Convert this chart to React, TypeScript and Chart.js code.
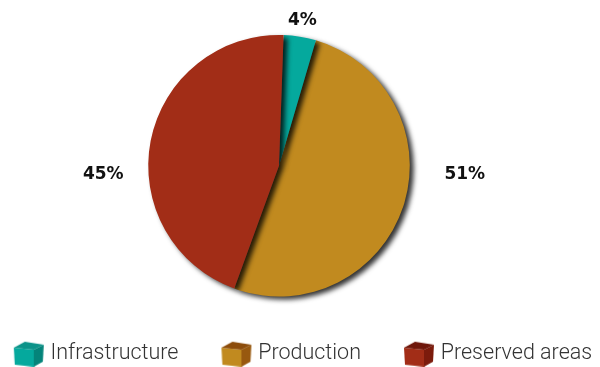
import React, { useEffect, useRef } from "react";
import { Chart, registerables } from "chart.js";

Chart.register(...registerables);

const categories = ["Infrastructure", "Production", "Preserved areas"];
const shares = [4, 51, 45];
const shareLabels = ["4%", "51%", "45%"];
const sliceColors = ["#05A99D", "#C18A1F", "#A22D17"];
const sideColors = ["#04847A", "#98590F", "#7C1B0C"];
const topColors = ["#0B9389", "#8C4C0B", "#6E160A"];
const drawOrder = [1, 0, 2];

function makeCube(i: number): HTMLCanvasElement {
  const c = document.createElement("canvas");
  c.width = 54;
  c.height = 27;
  const g = c.getContext("2d")!;
  g.translate(23, 0);
  // front face
  g.fillStyle = sliceColors[i];
  g.beginPath();
  g.moveTo(0, 8);
  g.lineTo(20, 10);
  g.lineTo(20, 27);
  g.lineTo(1, 25);
  g.closePath();
  g.fill();
  // right face
  g.fillStyle = sideColors[i];
  g.beginPath();
  g.moveTo(20, 10);
  g.lineTo(30, 5);
  g.lineTo(29, 22);
  g.lineTo(20, 27);
  g.closePath();
  g.fill();
  // top (interior)
  g.fillStyle = topColors[i];
  g.beginPath();
  g.moveTo(0, 8);
  g.lineTo(11, 2);
  g.lineTo(30, 5);
  g.lineTo(20, 10);
  g.closePath();
  g.fill();
  return c;
}

export default function App() {
  const ref = useRef<HTMLCanvasElement>(null);
  useEffect(() => {
    document.body.style.margin = "0";
    const cubes = categories.map((_, i) => makeCube(i));

    const shiftPlugin = {
      id: "shiftArea",
      afterLayout(chart: any) {
        const a = chart.chartArea;
        const cx = chart.width / 2 - 21;
        const w = a.right - a.left;
        a.left = cx - w / 2;
        a.right = cx + w / 2;
        a.bottom -= 21;
        a.width = a.right - a.left;
        a.height = a.bottom - a.top;
      },
    };

    const orderShadowPlugin = {
      id: "orderShadow",
      beforeDatasetDraw(chart: any, args: any) {
        const ctx = chart.ctx;
        const meta = args.meta;
        ctx.save();
        ctx.shadowColor = "rgba(0,0,0,0.8)";
        ctx.shadowBlur = 5;
        ctx.shadowOffsetX = 4;
        ctx.shadowOffsetY = 3;
        drawOrder.forEach((idx) => meta.data[idx].draw(ctx));
        ctx.restore();
        return false;
      },
    };

    const labelPlugin = {
      id: "pctLabels",
      afterDatasetsDraw(chart: any) {
        const ctx = chart.ctx;
        const arcs = chart.getDatasetMeta(0).data;
        const cx = arcs[0].x;
        const cy = arcs[0].y;
        const R = arcs[0].outerRadius;
        ctx.save();
        ctx.font = "bold 17px 'DejaVu Sans'";
        ctx.fillStyle = "#111";
        ctx.textAlign = "center";
        ctx.textBaseline = "middle";
        shareLabels.forEach((t, i) => {
          const a = arcs[i];
          const mid = (a.startAngle + a.endAngle) / 2;
          let x: number, y: number;
          if (i === 0) {
            x = cx + (R + 16) * Math.cos(mid);
            y = cy + (R + 16) * Math.sin(mid);
          } else {
            const side = Math.cos(mid) >= 0 ? 1 : -1;
            x = cx + side * (R + (side > 0 ? 55 : 45));
            y = cy + 9;
          }
          ctx.fillText(t, x, y);
        });
        ctx.restore();
      },
    };

    const chart = new Chart(ref.current!, {
      type: "pie",
      data: {
        labels: categories,
        datasets: [
          {
            data: shares,
            backgroundColor: sliceColors,
            borderWidth: 0,
          },
        ],
      },
      options: {
        animation: false,
        responsive: false,
        rotation: 2,
        layout: { padding: { top: 35, bottom: -7, left: -36, right: -24 } },
        plugins: {
          tooltip: { enabled: false },
          legend: {
            position: "bottom",
            labels: {
              usePointStyle: true,
              pointStyleWidth: 44,
              padding: 25,
              color: "#333",
              font: { family: "Roboto", size: 21.5, weight: "300" },
              generateLabels: () =>
                categories.map((c, i) => ({
                  text: c,
                  fillStyle: sliceColors[i],
                  strokeStyle: sliceColors[i],
                  lineWidth: 0,
                  pointStyle: cubes[i],
                  hidden: false,
                  index: i,
                  fontColor: "#333",
                })),
            },
          },
        },
      },
      plugins: [shiftPlugin, orderShadowPlugin, labelPlugin],
    });
    return () => chart.destroy();
  }, []);
  return (
    <div style={{ width: 600, height: 367 }}>
      <canvas ref={ref} width={600} height={367} />
    </div>
  );
}
